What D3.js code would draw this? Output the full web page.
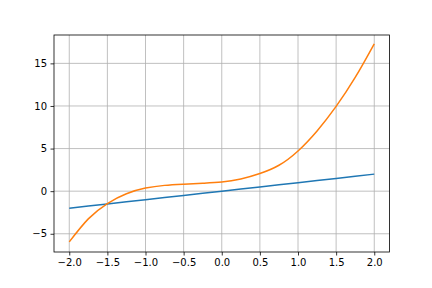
<!DOCTYPE html>
<html>
<head>
<meta charset="utf-8">
<script src="https://cdn.jsdelivr.net/npm/d3@7"></script>
<style>
  html, body { margin: 0; padding: 0; background: #fff; }
  svg { display: block; }
  text { font-family: "DejaVu Sans", sans-serif; font-size: 10px; fill: #000; }
</style>
</head>
<body>
<svg id="chart" width="432" height="288"></svg>
<script>
// Data
const xs = [-2.0, -1.75, -1.5, -1.25, -1.0, -0.75, -0.5, -0.25, 0.0, 0.25, 0.5, 0.75, 1.0, 1.25, 1.5, 1.75, 2.0];
const lineValues = [-2.0, -1.75, -1.5, -1.25, -1.0, -0.75, -0.5, -0.25, 0.0, 0.25, 0.5, 0.75, 1.0, 1.25, 1.5, 1.75, 2.0];
const curveValues = [-5.95, -3.25, -1.45, -0.30, 0.36, 0.68, 0.82, 0.93, 1.07, 1.43, 2.07, 3.04, 4.72, 7.07, 9.95, 13.35, 17.3];
const xTicks = [-2.0, -1.5, -1.0, -0.5, 0.0, 0.5, 1.0, 1.5, 2.0];
const yTicks = [-5, 0, 5, 10, 15];

const svg = d3.select("#chart");
const L = 54, R = 389.5, T = 35, B = 252;

const x = d3.scaleLinear().domain([-2.2, 2.2]).range([L, R]);
const y = d3.scaleLinear().domain([-7.14, 18.33]).range([B, T]);

const fmtX = d => d3.format(".1f")(d).replace("-", "\u2212");
const fmtY = d => String(d).replace("-", "\u2212");

// grid
const grid = svg.append("g");
grid.selectAll(".gx").data(xTicks).enter().append("line")
  .attr("x1", d => x(d)).attr("x2", d => x(d)).attr("y1", T).attr("y2", B)
  .attr("stroke", "#b0b0b0").attr("stroke-width", 0.8);
grid.selectAll(".gy").data(yTicks).enter().append("line")
  .attr("x1", L).attr("x2", R).attr("y1", d => y(d)).attr("y2", d => y(d))
  .attr("stroke", "#b0b0b0").attr("stroke-width", 0.8);

// lines
const mk = () => d3.line().x((d, i) => x(xs[i])).y(d => y(d));
svg.append("path").datum(lineValues)
  .attr("d", mk().curve(d3.curveLinear)(lineValues))
  .attr("fill", "none").attr("stroke", "#1f77b4").attr("stroke-width", 1.5);
svg.append("path").datum(curveValues)
  .attr("d", mk().curve(d3.curveNatural)(curveValues))
  .attr("fill", "none").attr("stroke", "#ff7f0e").attr("stroke-width", 1.5);

// axes
const xAxis = d3.axisBottom(x).tickValues(xTicks).tickFormat(fmtX).tickSize(3.5).tickPadding(3.5);
const yAxis = d3.axisLeft(y).tickValues(yTicks).tickFormat(fmtY).tickSize(3.5).tickPadding(3.5);
const gx = svg.append("g").attr("transform", `translate(0,${B})`).call(xAxis);
const gy = svg.append("g").attr("transform", `translate(${L},0)`).call(yAxis);
[gx, gy].forEach(g => {
  g.select(".domain").remove();
  g.selectAll(".tick line").attr("stroke", "#000").attr("stroke-width", 0.8);
  g.selectAll(".tick text").style("font-family", "DejaVu Sans").style("font-size", "10px").attr("fill", "#000");
});

// spines
svg.append("rect").attr("x", L).attr("y", T).attr("width", R - L).attr("height", B - T)
  .attr("fill", "none").attr("stroke", "#000").attr("stroke-width", 0.8);
</script>
</body>
</html>
